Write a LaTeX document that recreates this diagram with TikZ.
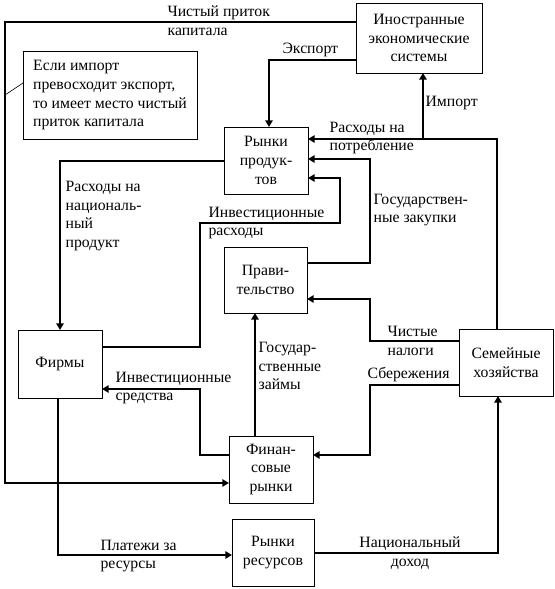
\documentclass[tikz,border=0pt]{standalone}
\usepackage{fontspec}
\setmainfont{Liberation Serif}
\usetikzlibrary{arrows.meta}

\begin{document}
\begin{tikzpicture}[x=0.75pt, y=-0.75pt,
  every node/.style={font=\fontsize{11.8}{14}\selectfont},
  box/.style={draw, line width=0.75pt, align=center, inner sep=2pt, outer sep=0pt},
  flow/.style={line width=1.5pt, -{Triangle[length=5pt,width=5.5pt]}},
  lbl/.style={align=left, anchor=west, inner sep=1pt}]
\useasboundingbox (0,0) rectangle (555,589);

% boxes
\node[box, minimum width=94.5pt, minimum height=52.5pt] (foreign)    at (419,38)    {Иностранные\\экономические\\системы};
\node[box, align=left, minimum width=130.5pt, minimum height=66pt] (note) at (110,95.5) {Если импорт\\превосходит экспорт,\\то имеет место чистый\\приток капитала};
\node[box, minimum width=63pt, minimum height=50.25pt]   (goods)      at (266,160.5) {Рынки\\продук-\\тов};
\node[box, minimum width=62.25pt, minimum height=49.5pt] (gov)        at (265.5,280) {Прави-\\тельство};
\node[box, minimum width=63pt, minimum height=51pt]      (firms)      at (60,364)    {Фирмы};
\node[box, minimum width=70.5pt, minimum height=50.25pt] (households) at (506,362.5) {Семейные\\хозяйства};
\node[box, minimum width=63pt, minimum height=50.25pt]   (finance)    at (271,469.5) {Финан-\\совые\\рынки};
\node[box, minimum width=61.5pt, minimum height=50.25pt] (resources)  at (273,552.5) {Рынки\\ресурсов};

% bend points
\coordinate (capTL) at (5,22);
\coordinate (capBL) at (5,483);
\coordinate (nlink) at (5,95);
\coordinate (exp)   at (269,60);
\coordinate (cons)  at (497,139);
\coordinate (imp)   at (423,139);
\coordinate (gp1)   at (370,263);
\coordinate (gp2)   at (370,159);
\coordinate (is1)   at (200,347);
\coordinate (is2)   at (200,223);
\coordinate (is3)   at (340,223);
\coordinate (is4)   at (340,178);
\coordinate (np)    at (60,161);
\coordinate (nt1)   at (370,341);
\coordinate (nt2)   at (370,299);
\coordinate (sv1)   at (370,385);
\coordinate (sv2)   at (370,455);
\coordinate (gl)    at (255,400);
\coordinate (if1)   at (200,455);
\coordinate (if2)   at (200,389);
\coordinate (pr)    at (58,555);
\coordinate (ni)    at (498,553);

% flows
\draw[flow] (capTL -| foreign.west) -- (capTL) -- (capBL) -- (capBL -| finance.west);
\draw[line width=0.5pt] (note.west |- 0,83) -- (nlink);
\draw[flow] (exp -| foreign.west) -- (exp) -- (exp |- goods.north);
\draw[flow] (cons |- households.north) -- (cons) -- (cons -| goods.east);
\draw[flow] (imp) -- (imp |- foreign.south);
\draw[flow] (gp1 -| gov.east) -- (gp1) -- (gp2) -- (gp2 -| goods.east);
\draw[flow] (is1 -| firms.east) -- (is1) -- (is2) -- (is3) -- (is4) -- (is4 -| goods.east);
\draw[flow] (np -| goods.west) -- (np) -- (np |- firms.north);
\draw[flow] (nt1 -| households.west) -- (nt1) -- (nt2) -- (nt2 -| gov.east);
\draw[flow] (sv1 -| households.west) -- (sv1) -- (sv2) -- (sv2 -| finance.east);
\draw[flow] (gl |- finance.north) -- (gl |- gov.south);
\draw[flow] (if1 -| finance.west) -- (if1) -- (if2) -- (if2 -| firms.east);
\draw[flow] (pr |- firms.south) -- (pr) -- (pr -| resources.west);
\draw[flow] (ni -| resources.east) -- (ni) -- (ni |- households.south);

% labels
\node[lbl] (capital)  at (166,21)  {Чистый приток\\капитала};
\node[lbl] (export)   at (281,50)  {Экспорт};
\node[lbl] (import)   at (424,103) {Импорт};
\node[lbl] (consume)  at (328,138) {Расходы на\\потребление};
\node[lbl] (purchase) at (372,210) {Государствен-\\ные закупки};
\node[lbl] (invspend) at (207,223) {Инвестиционные\\расходы};
\node[lbl] (natprod)  at (64,216)  {Расходы на\\националь-\\ный\\продукт};
\node[lbl] (taxes)    at (386,341) {Чистые\\налоги};
\node[lbl] (savings)  at (366,375) {Сбережения};
\node[lbl] (loans)    at (257,366) {Государ-\\ственные\\займы};
\node[lbl] (invfunds) at (114,388) {Инвестиционные\\средства};
\node[lbl] (payments) at (99,556)  {Платежи за\\ресурсы};
\node[lbl, align=center, anchor=center] (income) at (410,553) {Национальный\\доход};
\end{tikzpicture}
\end{document}
